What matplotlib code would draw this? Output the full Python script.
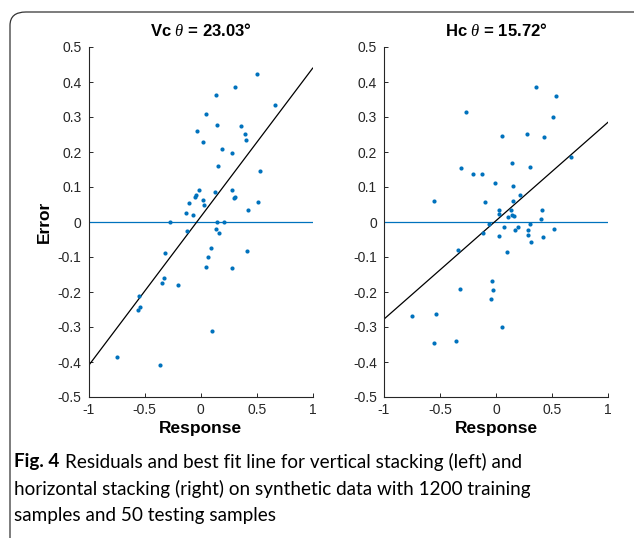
import numpy as np
import matplotlib
matplotlib.use('Agg')
import matplotlib.pyplot as plt
from matplotlib.patches import FancyBboxPatch

plt.rcParams['font.family'] = ['Liberation Sans', 'DejaVu Sans']
plt.rcParams['mathtext.fontset'] = 'custom'
plt.rcParams['mathtext.it'] = 'Liberation Serif:italic'

# ---- data ----
vc_resp = [0.504, 0.307, 0.141, 0.667, 0.046, 0.150, 0.358, -0.034, 0.400, 0.406,
           0.019, 0.195, 0.278, 0.156, 0.533, -0.013, 0.281, 0.129, -0.037, -0.046,
           0.019, 0.299, 0.307, -0.102, 0.510, 0.028, 0.423, -0.132, -0.067, -0.272,
           0.147, 0.212, -0.120, 0.141, 0.165, 0.096, -0.314, 0.412, 0.064, 0.052,
           0.284, -0.325, -0.340, -0.203, -0.551, -0.539, -0.557, 0.105, -0.750, -0.361]
vc_err = [0.422, 0.386, 0.364, 0.334, 0.309, 0.276, 0.273, 0.261, 0.252, 0.234,
          0.230, 0.208, 0.197, 0.160, 0.145, 0.091, 0.091, 0.085, 0.078, 0.072,
          0.064, 0.069, 0.071, 0.054, 0.056, 0.049, 0.033, 0.027, 0.019, 0.001,
          0.001, 0.001, -0.026, -0.020, -0.031, -0.074, -0.089, -0.084, -0.101, -0.128,
          -0.130, -0.159, -0.174, -0.180, -0.212, -0.242, -0.250, -0.310, -0.385, -0.409]

hc_resp = [0.358, 0.536, -0.272, 0.506, 0.277, 0.049, 0.426, 0.667, 0.144, -0.314,
           0.304, -0.204, -0.129, -0.011, 0.150, 0.215, -0.557, -0.103, 0.150, 0.022,
           0.129, 0.405, 0.028, 0.105, 0.144, 0.159, 0.398, -0.064, 0.067, 0.197,
           0.301, 0.515, 0.168, 0.281, -0.120, 0.022, 0.283, 0.414, 0.310, -0.340,
           0.099, -0.035, -0.325, -0.032, -0.046, -0.539, -0.750, 0.052, -0.358, -0.552]
hc_err = [0.385, 0.359, 0.314, 0.300, 0.252, 0.245, 0.243, 0.186, 0.168, 0.154,
          0.156, 0.137, 0.137, 0.112, 0.103, 0.078, 0.060, 0.057, 0.060, 0.034,
          0.035, 0.033, 0.023, 0.015, 0.019, 0.016, 0.009, -0.007, -0.013, -0.015,
          -0.005, -0.019, -0.024, -0.023, -0.031, -0.040, -0.037, -0.043, -0.058, -0.081,
          -0.086, -0.168, -0.191, -0.193, -0.219, -0.263, -0.269, -0.299, -0.339, -0.346]

titles = ['Vc', 'Hc']
theta_deg = [23.03, 15.72]
intercepts = [0.0145, 0.004]

xticks = [-1, -0.5, 0, 0.5, 1]
xticklabels = ['-1', '-0.5', '0', '0.5', '1']
yticks = [-0.5, -0.4, -0.3, -0.2, -0.1, 0, 0.1, 0.2, 0.3, 0.4, 0.5]
yticklabels = ['-0.5', '-0.4', '-0.3', '-0.2', '-0.1', '0', '0.1', '0.2', '0.3', '0.4', '0.5']

blue = '#0072BD'
W, H = 634, 538
fig = plt.figure(figsize=(W / 100, H / 100), dpi=100)

# rounded frame around the figure (only top and left visible)
frame = FancyBboxPatch((10 / W, -0.2), 1.2, 1.2 - 12 / H,
                       boxstyle='round,pad=0,rounding_size=0.025',
                       transform=fig.transFigure, fill=False,
                       edgecolor='#333333', linewidth=0.9)
fig.patches.append(frame)

lefts = [88.5 / W, 384 / W]
data = [(vc_resp, vc_err), (hc_resp, hc_err)]
for i in range(2):
    ax = fig.add_axes([lefts[i], 1 - 397 / H, 224.2 / W, 350 / H])
    xs, ys = data[i]
    slope = np.tan(np.radians(theta_deg[i]))
    xl = np.array([-1, 1])
    ax.axhline(0, color=blue, lw=0.9)
    ax.plot(xl, slope * xl + intercepts[i], color='black', lw=0.9)
    ax.plot(xs, ys, '.', color=blue, markersize=6, markeredgewidth=0)
    ax.set_xlim(-1, 1)
    ax.set_ylim(-0.5, 0.5)
    ax.set_xticks(xticks)
    ax.set_xticklabels(xticklabels)
    ax.set_yticks(yticks)
    ax.set_yticklabels(yticklabels)
    for s in ['top', 'right']:
        ax.spines[s].set_visible(False)
    for s in ['left', 'bottom']:
        ax.spines[s].set_color('#262626')
        ax.spines[s].set_linewidth(0.8)
    ax.tick_params(direction='in', length=3, width=0.7, labelsize=10,
                   colors='#262626')
    ax.tick_params(axis='x', pad=4)
    ax.tick_params(axis='y', pad=5)
    ax.set_title(titles[i] + r' $\theta$ = ' + '%.2f°' % theta_deg[i],
                 fontweight='bold', fontsize=12, pad=8)
    ax.set_xlabel('Response', fontweight='bold', fontsize=12.5, labelpad=3)
    if i == 0:
        ax.set_ylabel('Error', fontweight='bold', fontsize=12.5, labelpad=4)

cap_font = ['Lato', 'DejaVu Sans']
cs = 13.6
fig.text(14 / W, 1 - 462 / H, 'Fig. 4', fontsize=cs, fontweight='bold',
         family=cap_font, va='center')
fig.text(65 / W, 1 - 462 / H, 'Residuals and best fit line for vertical stacking (left) and',
         fontsize=cs, family=cap_font, va='center')
fig.text(14 / W, 1 - 489 / H,
         'horizontal stacking (right) on synthetic data with 1200 training',
         fontsize=cs, family=cap_font, va='center')
fig.text(14 / W, 1 - 516 / H, 'samples and 50 testing samples',
         fontsize=cs, family=cap_font, va='center')

fig.savefig('out.png', dpi=100)
